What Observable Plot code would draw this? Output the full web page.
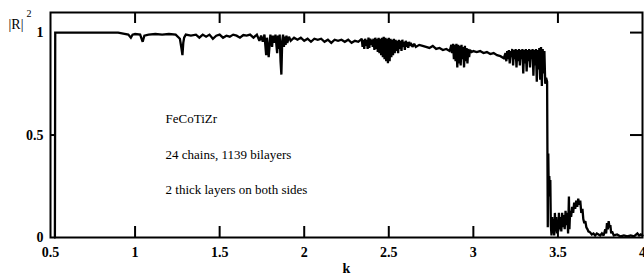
<!DOCTYPE html>
<html>
<head>
<meta charset="utf-8">
<script src="https://cdn.jsdelivr.net/npm/d3@7"></script>
<script src="https://cdn.jsdelivr.net/npm/@observablehq/plot@0.6"></script>
<style>
  html, body { margin: 0; padding: 0; background: #fff; }
  #chart { width: 644px; height: 278px; }
</style>
</head>
<body>
<div id="chart"></div>
<script>
// k (x) values and |R|^2 values
const kVals = [
  0.526, 0.528, 0.9, 0.93, 0.96, 0.975, 0.985, 1.0, 1.03, 1.045, 1.055, 1.08, 1.12, 1.16, 1.2, 1.24,
  1.265, 1.275, 1.28, 1.285, 1.29, 1.30, 1.33, 1.36, 1.38, 1.40, 1.42, 1.44, 1.46, 1.48, 1.50, 1.52,
  1.54, 1.56, 1.58, 1.60, 1.62, 1.64, 1.66, 1.68, 1.70, 1.72, 1.735, 1.745, 1.755, 1.765, 1.775, 1.78,
  1.79, 1.80, 1.81, 1.815, 1.825, 1.83, 1.84, 1.845, 1.85, 1.855, 1.86, 1.865, 1.87, 1.875, 1.88, 1.885,
  1.89, 1.895, 1.90, 1.91, 1.92, 1.94, 1.96, 1.98, 2.00, 2.02, 2.04, 2.06, 2.08, 2.10, 2.12, 2.14,
  2.16, 2.18, 2.20, 2.22, 2.24, 2.26, 2.28, 2.30, 2.32,
  2.34, 2.345, 2.35, 2.355, 2.36, 2.365, 2.37, 2.375, 2.38, 2.385, 2.39, 2.395, 2.40, 2.405, 2.41, 2.415,
  2.42, 2.425, 2.43, 2.435, 2.44, 2.445, 2.45, 2.455, 2.46, 2.465, 2.47, 2.475, 2.48, 2.485, 2.49, 2.495,
  2.50, 2.505, 2.51, 2.515, 2.52, 2.525, 2.53, 2.535, 2.54, 2.545, 2.55, 2.555, 2.56, 2.565, 2.57, 2.575,
  2.58, 2.585, 2.59, 2.595, 2.60, 2.605, 2.61, 2.615, 2.62, 2.625, 2.63, 2.64, 2.65, 2.66, 2.68, 2.70,
  2.72, 2.74, 2.76, 2.78, 2.80, 2.82, 2.84, 2.86,
  2.87, 2.875, 2.88, 2.885, 2.89, 2.895, 2.90, 2.905, 2.91, 2.915, 2.92, 2.925, 2.93, 2.935, 2.94, 2.945,
  2.95, 2.955, 2.96, 2.965, 2.97, 2.975, 2.98, 2.99, 3.00, 3.02, 3.04, 3.06, 3.08, 3.10, 3.12, 3.14,
  3.16, 3.18,
  3.19, 3.195, 3.20, 3.205, 3.21, 3.215, 3.22, 3.225, 3.23, 3.235, 3.24, 3.245, 3.25, 3.255, 3.26, 3.265,
  3.27, 3.275, 3.28, 3.285, 3.29, 3.295, 3.30, 3.305, 3.31, 3.315, 3.32, 3.325, 3.33, 3.335, 3.34, 3.345,
  3.35, 3.355, 3.36, 3.365, 3.37, 3.375, 3.38, 3.385, 3.39, 3.395, 3.40, 3.405, 3.41, 3.415, 3.42, 3.425,
  3.43, 3.436,
  3.44, 3.443, 3.446, 3.449, 3.452, 3.455, 3.458, 3.462, 3.466, 3.47, 3.474, 3.478, 3.482, 3.486, 3.49, 3.494,
  3.498, 3.502, 3.506, 3.51, 3.515, 3.52, 3.525, 3.53, 3.535, 3.54, 3.545, 3.55, 3.555, 3.56, 3.565, 3.568,
  3.572, 3.578, 3.584, 3.59, 3.596, 3.602, 3.608, 3.614, 3.62, 3.626, 3.632, 3.638, 3.645, 3.65, 3.656, 3.662,
  3.668, 3.675, 3.68, 3.69, 3.70, 3.71, 3.72, 3.73, 3.74, 3.75, 3.76, 3.77, 3.78, 3.785, 3.79, 3.795,
  3.80, 3.805, 3.81, 3.815, 3.82, 3.83, 3.85, 3.87, 3.89, 3.91, 3.93, 3.95, 3.97, 3.98, 3.99, 4.0
];
const rVals = [
  0.0, 1.0, 1.0, 0.995, 0.99, 0.975, 0.99, 0.993, 0.99, 0.955, 0.985, 0.99, 0.993, 0.99, 0.993, 0.99,
  0.97, 0.92, 0.89, 0.95, 0.975, 0.99, 0.985, 0.99, 0.975, 0.99, 0.98, 0.99, 0.97, 0.985, 0.99, 0.975,
  0.985, 0.98, 0.99, 0.985, 0.975, 0.988, 0.985, 0.99, 0.975, 0.99, 0.96, 0.985, 0.955, 0.99, 0.89, 0.975,
  0.88, 0.99, 0.93, 0.985, 0.95, 0.99, 0.90, 0.985, 0.92, 0.99, 0.86, 0.795, 0.96, 0.99, 0.93, 0.98,
  0.94, 0.985, 0.95, 0.98, 0.96, 0.975, 0.965, 0.975, 0.96, 0.97, 0.955, 0.97, 0.965, 0.97, 0.955, 0.965,
  0.95, 0.965, 0.96, 0.965, 0.955, 0.965, 0.95, 0.96, 0.955,
  0.97, 0.93, 0.965, 0.92, 0.97, 0.935, 0.965, 0.92, 0.975, 0.925, 0.97, 0.94, 0.965, 0.93, 0.97, 0.915,
  0.975, 0.92, 0.97, 0.905, 0.975, 0.90, 0.97, 0.89, 0.975, 0.88, 0.98, 0.87, 0.975, 0.86, 0.97, 0.85,
  0.975, 0.86, 0.97, 0.88, 0.965, 0.89, 0.97, 0.90, 0.965, 0.91, 0.96, 0.90, 0.965, 0.92, 0.96, 0.91,
  0.965, 0.93, 0.955, 0.915, 0.96, 0.93, 0.955, 0.925, 0.955, 0.935, 0.95, 0.93, 0.945, 0.93, 0.94, 0.935,
  0.93, 0.925, 0.935, 0.92, 0.925, 0.915, 0.92, 0.91,
  0.94, 0.90, 0.945, 0.87, 0.94, 0.86, 0.945, 0.83, 0.94, 0.85, 0.935, 0.84, 0.94, 0.87, 0.93, 0.83,
  0.935, 0.86, 0.925, 0.85, 0.92, 0.88, 0.915, 0.905, 0.91, 0.905, 0.91, 0.90, 0.905, 0.895, 0.90, 0.89,
  0.885, 0.875,
  0.90, 0.86, 0.91, 0.87, 0.915, 0.85, 0.91, 0.88, 0.92, 0.84, 0.915, 0.87, 0.92, 0.83, 0.915, 0.86,
  0.92, 0.84, 0.915, 0.87, 0.92, 0.80, 0.915, 0.85, 0.92, 0.81, 0.915, 0.86, 0.92, 0.83, 0.915, 0.87,
  0.92, 0.79, 0.915, 0.84, 0.92, 0.76, 0.915, 0.82, 0.925, 0.77, 0.93, 0.74, 0.92, 0.80, 0.91, 0.75,
  0.78, 0.76,
  0.05, 0.41, 0.20, 0.30, 0.22, 0.28, 0.06, 0.01, 0.10, 0.02, 0.09, 0.01, 0.12, 0.03, 0.10, 0.02,
  0.08, 0.03, 0.12, 0.04, 0.10, 0.03, 0.12, 0.05, 0.11, 0.04, 0.13, 0.06, 0.12, 0.02, 0.20, 0.04,
  0.13, 0.10, 0.15, 0.12, 0.17, 0.14, 0.18, 0.15, 0.19, 0.16, 0.18, 0.12, 0.14, 0.09, 0.07, 0.08,
  0.05, 0.04, 0.03, 0.025, 0.015, 0.02, 0.01, 0.02, 0.015, 0.01, 0.02, 0.01, 0.04, 0.02, 0.07, 0.04,
  0.08, 0.05, 0.06, 0.02, 0.03, 0.01, 0.015, 0.005, 0.01, 0.005, 0.01, 0.005, 0.02, 0.01, 0.015, 0.01
];

const xTickVals = [0.5, 1, 1.5, 2, 2.5, 3, 3.5, 4];
const xInnerTicks = [1, 1.5, 2, 2.5, 3, 3.5];
const yTickVals = [0, 0.5, 1];
const yRightTicks = [0.5, 1];
const yLeftTicks = [0.5];
const notes = ["FeCoTiZr", "24 chains, 1139 bilayers", "2 thick layers on both sides"];
const xLabel = "k";
const yLabel = "|R|";
const yLabelSup = "2";

const data = kVals.map((k, i) => ({k, r: rVals[i]}));

const chart = Plot.plot({
  width: 644,
  height: 278,
  marginLeft: 50,
  marginRight: 2,
  marginTop: 12,
  marginBottom: 41,
  x: {domain: [0.5, 4]},
  y: {domain: [0, 1.098]},
  style: {fontFamily: "'Liberation Serif', 'DejaVu Serif', serif", background: "#fff", color: "#000", overflow: "visible"},
  marks: [
    Plot.axisX(xTickVals, {tickSize: 0, tickPadding: 10, fontSize: 14, fontWeight: "bold", tickFormat: d => String(d), label: null}),
    Plot.axisY(yTickVals, {tickSize: 0, tickPadding: 7, fontSize: 14, fontWeight: "bold", tickFormat: d => String(d), label: null}),
    Plot.ruleX(xInnerTicks, {x: d => d, insetTop: 214, stroke: "#000", strokeWidth: 2}),
    Plot.ruleX(xInnerTicks, {x: d => d, insetBottom: 214, stroke: "#000", strokeWidth: 2}),
    Plot.ruleY(yRightTicks, {y: d => d, insetLeft: 580, stroke: "#000", strokeWidth: 2}),
    Plot.ruleY(yLeftTicks, {y: d => d, insetRight: 586, stroke: "#000", strokeWidth: 2}),
    Plot.line(data, {x: "k", y: "r", stroke: "#000", strokeWidth: 2.3, strokeLinejoin: "miter", strokeMiterlimit: 2}),
    Plot.frame({stroke: "#000", strokeWidth: 2}),
    Plot.text([notes.join("\n")], {x: 1.18, y: 0.44, textAnchor: "start", lineAnchor: "middle", lineHeight: 2.7, fontSize: 13, fill: "#000"}),
    Plot.text([xLabel], {frameAnchor: "bottom", dy: 31, lineAnchor: "middle", fontSize: 14, fontWeight: "bold", fill: "#000"}),
    Plot.text([yLabel], {frameAnchor: "top-left", dx: -42, dy: 16, textAnchor: "start", lineAnchor: "bottom", fontSize: 14, fill: "#000"}),
    Plot.text([yLabelSup], {frameAnchor: "top-left", dx: -24, dy: 4, textAnchor: "start", lineAnchor: "bottom", fontSize: 10, fill: "#000"})
  ]
});

document.getElementById("chart").appendChild(chart);
</script>
</body>
</html>
